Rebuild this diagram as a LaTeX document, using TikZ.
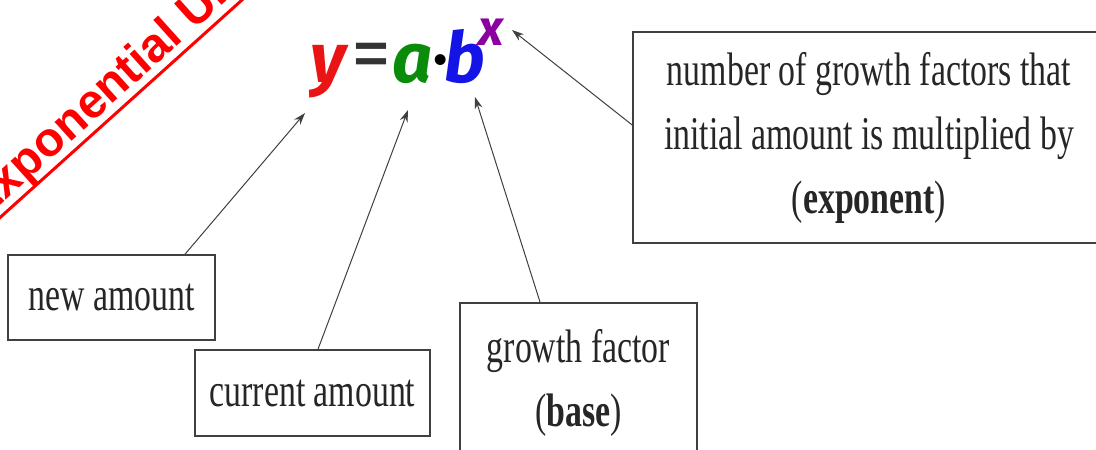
\documentclass[tikz,border=0pt]{standalone}
\usepackage{fontspec}
\usetikzlibrary{arrows.meta}
\setmainfont{Liberation Serif}
\newfontfamily\boxfam[FakeStretch=0.72]{Liberation Serif}
\newfontfamily\bannerfam{Liberation Sans}
\newfontfamily\handfam{Fira Sans}
\definecolor{eqred}{RGB}{235,20,20}
\definecolor{eqgreen}{RGB}{10,140,10}
\definecolor{eqblue}{RGB}{20,20,230}
\definecolor{eqpurple}{RGB}{140,0,160}
\begin{document}
\begin{tikzpicture}[x=1pt,y=-1pt,
  box/.style={draw=black!75, line width=1.6pt, inner sep=0pt, align=center,
    font={\boxfam\fontsize{47}{64}\selectfont}, text=black!85},
  conn/.style={draw=black!75, line width=1pt, -{Stealth[length=12pt,width=8pt]}},
  eq/.style={inner sep=0pt, anchor=base, font={\handfam\bfseries\itshape\fontsize{70}{70}\selectfont}}]
\useasboundingbox (0,0) rectangle (1096,450);
\clip (0,0) rectangle (1096,450);
\fill[white] (0,0) rectangle (1096,450);

% banner
\draw[red, line width=3pt] (-45,258) -- (262,-18);
\node[red, font={\bannerfam\bfseries\fontsize{48}{48}\selectfont}, rotate=42, anchor=base west, inner sep=0pt] (banner) at (-18,222) {Exponential Unit};

% equation
\node[eq, text=eqred] (ey) at (328,82) {y};
\node[inner sep=0pt, anchor=base, text=black!80, font={\handfam\fontsize{80}{80}\selectfont}] (eeq) at (371,80) {=};
\node[eq, text=eqgreen] (ea) at (413,82) {a};
\node[inner sep=0pt, anchor=base, text=black, font={\handfam\bfseries\fontsize{60}{60}\selectfont}] (edot) at (441,78) {·};
\node[eq, text=eqblue] (eb) at (465,82) {b};
\node[eq, text=eqpurple, font={\handfam\bfseries\itshape\fontsize{50}{50}\selectfont}] (ex) at (491,45) {x};

% boxes
\node[box, minimum width=207pt, minimum height=85pt] (newamt) at (111.5,297.5) {new amount};
\node[box, minimum width=235pt, minimum height=86pt] (curamt) at (312.5,393) {current amount};
\node[box, minimum width=237pt, minimum height=160pt, anchor=north] (growth) at (578.5,302) {growth factor\\(\textbf{base})};
\node[box, minimum width=472pt, minimum height=211pt] (expo) at (869,137.5) {number of growth factors that\\initial amount is multiplied by\\(\textbf{exponent})};

% connectors
\coordinate (ty) at (305,113);
\coordinate (ta) at (408,110);
\coordinate (tb) at (475,97);
\coordinate (tx) at (512,30);
\draw[conn] ([xshift=73.5pt]newamt.north) -- (ty);
\draw[conn] ([xshift=5.5pt]curamt.north) -- (ta);
\draw[conn] ([xshift=-38.5pt]growth.north) -- (tb);
\draw[conn] ([yshift=12.5pt]expo.west) -- (tx);
\end{tikzpicture}
\end{document}
